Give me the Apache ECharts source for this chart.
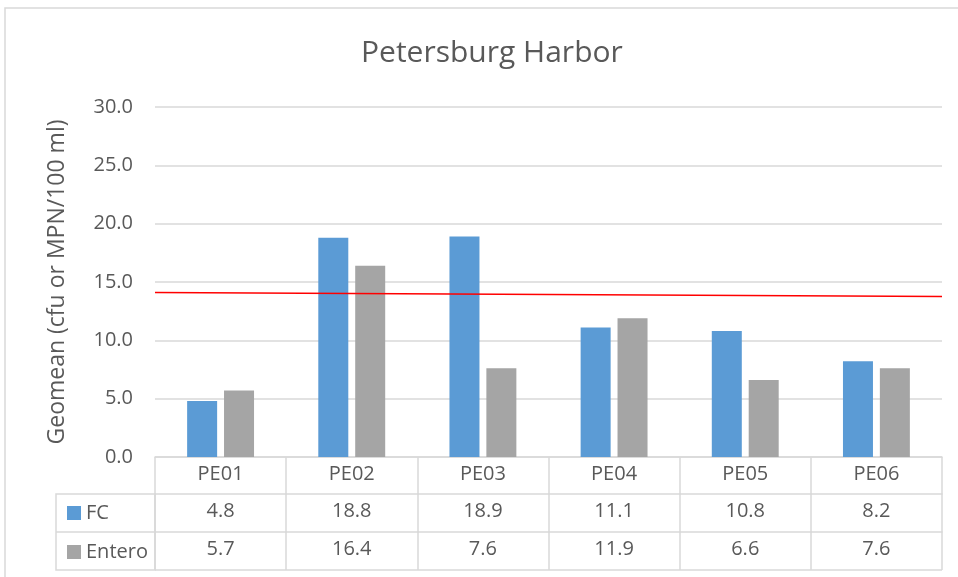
<!DOCTYPE html>
<html>
<head>
<meta charset="utf-8">
<script src="https://cdn.jsdelivr.net/npm/echarts@6/dist/echarts.min.js"></script>
<style>
  html, body { margin: 0; padding: 0; background: #fff; }
  #chart { width: 958px; height: 577px; }
</style>
</head>
<body>
<div id="chart"></div>
<script>
// data
var sites = ['PE01', 'PE02', 'PE03', 'PE04', 'PE05', 'PE06'];
var fc = [4.8, 18.8, 18.9, 11.1, 10.8, 8.2];
var entero = [5.7, 16.4, 7.6, 11.9, 6.6, 7.6];
// red reference line, start and end of plot width
var refLine = [[0, 14.1], [1, 13.75]];
var yTicks = { min: 0, max: 30, interval: 5 };

var txt = '#595959';
var border = '#d9d9d9';
var font = 'Open Sans';

function tableAxis(offset, values) {
  return {
    type: 'category',
    data: sites,
    position: 'bottom',
    offset: offset,
    axisLine: { show: true, lineStyle: { color: border, width: 1.5 } },
    axisTick: { show: true, length: 38, lineStyle: { color: border, width: 1.5 } },
    axisLabel: {
      color: txt, fontFamily: font, fontSize: 20, margin: 7,
      formatter: function (v, i) { return values ? values[i].toFixed(1) : v; }
    },
    splitLine: { show: false }
  };
}

function rowLegend(name, top) {
  return {
    data: [name],
    left: 62,
    top: top,
    itemWidth: 14,
    itemHeight: 14,
    itemGap: 5,
    icon: 'rect',
    selectedMode: false,
    textStyle: { color: txt, fontFamily: font, fontSize: 20 }
  };
}

var myChart = echarts.init(document.getElementById('chart'));
var option = {
  animation: false,
  title: {
    text: 'Petersburg Harbor',
    left: 356,
    top: 33,
    textStyle: { color: txt, fontFamily: font, fontSize: 30, fontWeight: 'normal' }
  },
  legend: [rowLegend('FC', 498), rowLegend('Entero', 537)],
  grid: { left: 155, right: 16, top: 107, bottom: 120, containLabel: false },
  xAxis: [
    tableAxis(0, null),
    tableAxis(37, fc),
    tableAxis(75, entero),
    { type: 'value', min: 0, max: 1, show: false, position: 'top' }
  ],
  yAxis: {
    type: 'value',
    min: yTicks.min, max: yTicks.max, interval: yTicks.interval,
    name: 'Geomean (cfu or MPN/100 ml)',
    nameLocation: 'middle',
    nameGap: 86,
    nameTextStyle: { color: txt, fontFamily: font, fontSize: 23 },
    axisLine: { show: false },
    axisTick: { show: false },
    axisLabel: {
      color: txt, fontFamily: font, fontSize: 20, margin: 22,
      formatter: function (v) { return v.toFixed(1); }
    },
    splitLine: { lineStyle: { color: border, width: 1.5 } }
  },
  series: [
    {
      name: 'FC', type: 'bar', data: fc, xAxisIndex: 0,
      barWidth: 30, barGap: '23%',
      itemStyle: { color: '#5b9bd5' }
    },
    {
      name: 'Entero', type: 'bar', data: entero, xAxisIndex: 0,
      barWidth: 30, barGap: '23%',
      itemStyle: { color: '#a5a5a5' }
    },
    {
      name: 'ref', type: 'line', data: refLine, xAxisIndex: 3,
      symbol: 'none', silent: true,
      lineStyle: { color: '#ff0000', width: 1.5 }
    }
  ],
  graphic: [
    {
      type: 'rect', silent: true,
      shape: { x: 5, y: 8, width: 990, height: 600 },
      style: { fill: 'none', stroke: border, lineWidth: 1.5 }
    },
    {
      type: 'rect', silent: true,
      shape: { x: 56, y: 494, width: 99, height: 76 },
      style: { fill: 'none', stroke: border, lineWidth: 1.5 }
    },
    {
      type: 'line', silent: true,
      shape: { x1: 56, y1: 532, x2: 155, y2: 532 },
      style: { stroke: border, lineWidth: 1.5 }
    },
    {
      type: 'line', silent: true,
      shape: { x1: 155, y1: 570, x2: 942, y2: 570 },
      style: { stroke: border, lineWidth: 1.5 }
    }
  ]
};
myChart.setOption(option);
</script>
</body>
</html>
